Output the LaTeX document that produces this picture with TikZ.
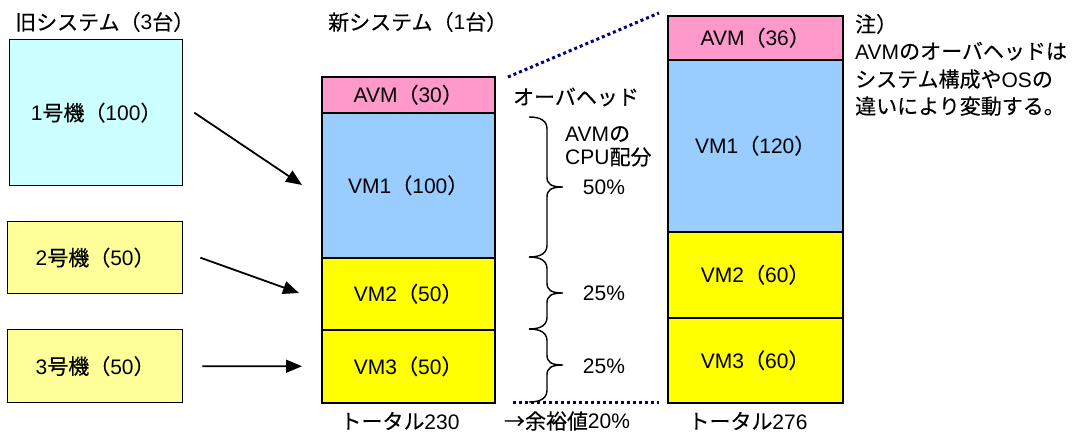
\documentclass[tikz,border=0pt]{standalone}
\usepackage{fontspec}
\setmainfont{Noto Sans CJK JP}[FakeBold=0.3]
\newfontfamily\latinf{Liberation Sans}
\newcommand\la[1]{{\latinf #1}}
\usetikzlibrary{arrows.meta}
\definecolor{cyanbox}{HTML}{CCFFFF}
\definecolor{paleyel}{HTML}{FFFF99}
\definecolor{pinkc}{HTML}{FF99CC}
\definecolor{bluec}{HTML}{99CCFF}
\definecolor{yel}{HTML}{FFFF00}
\definecolor{navyc}{HTML}{000080}
\newcommand\fs{\fontsize{21}{25}\selectfont}
\newcommand\brc[3]{\draw[bracestyle] (529,#1) .. controls (541,#1) and (547,{#1+4}) .. (547,{#1+12}) -- (547,{#2-10}) .. controls (547,{#2-3}) and (551,#2) .. (563,#2) .. controls (551,#2) and (547,{#2+3}) .. (547,{#2+10}) -- (547,{#3-12}) .. controls (547,{#3-4}) and (541,#3) .. (529,#3);}
\begin{document}
\begin{tikzpicture}[x=1pt,y=-1pt,
  every node/.style={font=\fs, inner sep=0pt},
  oldbox/.style={draw, line width=1.3pt, anchor=north west},
  seg/.style={draw, line width=1.5pt, anchor=north west, minimum width=173pt},
  arr/.style={line width=1.8pt, -{Triangle[length=16pt,width=13pt]}},
  dots/.style={navyc, line width=3pt, dash pattern=on 3pt off 3pt},
  bracestyle/.style={line width=1.4pt}]
\useasboundingbox (0,0) rectangle (1078,434);

% old system
\node[anchor=west] (t1) at (15,22) {旧システム（\la{3}台）};
\node[oldbox, fill=cyanbox, minimum width=173pt, minimum height=146pt] (b1) at (9,39) {\la{1}号機（\la{100}）};
\node[oldbox, fill=paleyel, minimum width=175pt, minimum height=72pt] (b2) at (7,221) {\la{2}号機（\la{50}）};
\node[oldbox, fill=paleyel, minimum width=175pt, minimum height=73pt] (b3) at (7,329) {\la{3}号機（\la{50}）};

% new system
\node[anchor=west] (t2) at (328,22) {新システム（\la{1}台）};
\node[seg, fill=pinkc, minimum height=36pt] (m0) at (321,76) {\la{AVM}（\la{30}）};
\node[seg, fill=bluec, minimum height=145pt] (m1) at (321,112) {\la{VM1}（\la{100}）};
\node[seg, fill=yel, minimum height=72pt] (m2) at (321,257) {\la{VM2}（\la{50}）};
\node[seg, fill=yel, minimum height=73pt] (m3) at (321,329) {\la{VM3}（\la{50}）};
\node (tot1) at (400,421) {トータル\la{230}};

% right column
\node[seg, fill=pinkc, minimum width=175pt, minimum height=44pt] (r0) at (667,15) {\la{AVM}（\la{36}）};
\node[seg, fill=bluec, minimum width=175pt, minimum height=172pt] (r1) at (667,59) {\la{VM1}（\la{120}）};
\node[seg, fill=yel, minimum width=175pt, minimum height=86pt] (r2) at (667,231) {\la{VM2}（\la{60}）};
\node[seg, fill=yel, minimum width=175pt, minimum height=85pt] (r3) at (667,317) {\la{VM3}（\la{60}）};
\node (tot2) at (748,421) {トータル\la{276}};

% arrows
\coordinate (e1) at (302,185);
\coordinate (e2) at (299,293);
\draw[arr] ([xshift=11pt]b1.east) -- (e1);
\draw[arr] ([xshift=17pt]b2.east) -- (e2);
\draw[arr, shorten <=19pt, shorten >=19pt] (b3.east) -- (m3.west);

% dotted lines
\coordinate (d1) at (508,77);
\coordinate (d2) at (659,13);
\coordinate (d3) at (513,402);
\coordinate (d4) at (659,402);
\draw[dots] (d1) -- (d2);
\draw[dots] (d3) -- (d4);

% braces
\brc{117}{187}{257}
\brc{257}{293}{329}
\brc{329}{365}{402}

% middle labels
\node (oh) at (576,97) {オーバヘッド};
\node[anchor=west] (cpu1) at (565,134) {\la{AVM}の};
\node[anchor=west] (cpu2) at (565,157) {\la{CPU}配分};
\node (p1) at (604,187) {\la{50\%}};
\node (p2) at (604,293) {\la{25\%}};
\node (p3) at (604,366) {\la{25\%}};
\node (yoyu) at (567,421) {→余裕値\la{20\%}};

% note
\node[anchor=base west] (n1) at (855,32) {注）};
\node[anchor=base west] (n2) at (855,59) {\la{AVM}のオーバヘッドは};
\node[anchor=base west] (n3) at (855,87) {システム構成や\la{OS}の};
\node[anchor=base west] (n4) at (855,114) {違いにより変動する。};
\end{tikzpicture}
\end{document}
